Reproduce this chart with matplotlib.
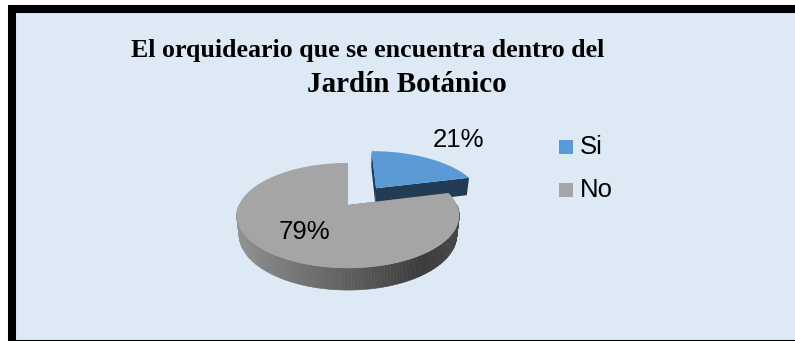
import numpy as np
import matplotlib.pyplot as plt
from matplotlib.patches import Polygon, Rectangle
from matplotlib.colors import LinearSegmentedColormap

# datos de la encuesta
categorias = ['Si', 'No']
valores = [21, 79]
etiquetas = ['21%', '79%']
separacion = [0.45, 0.0]

titulo = ['El orquideario que se encuentra dentro del', 'Jardín Botánico']

col_tapa = ['#5b9bd5', '#a5a5a5']
col_lado = ['#233c55', '#6e6e6e']
fondo = '#dde9f5'

# camara para el pastel 3D (todo en pixeles)
cx, cy = 348, 205
F = 483.0
D = 4.43
elev = np.radians(27.6)
alto = 0.2


def proy(X, Y, Z):
    X, Y, Z = np.asarray(X), np.asarray(Y), np.asarray(Z)
    prof = D + Y * np.cos(elev) - Z * np.sin(elev)
    arriba = Y * np.sin(elev) + Z * np.cos(elev)
    return np.column_stack([cx + F * X / prof, cy - F * arriba / prof])


fig = plt.figure(figsize=(7.95, 3.41), dpi=100)
fig.patch.set_facecolor('white')
ax = fig.add_axes([0, 0, 1, 1])
ax.set_xlim(0, 795)
ax.set_ylim(341, 0)
ax.axis('off')

# marco negro con fondo celeste
ax.add_patch(Rectangle((11.5, 9), 800, 334.5, facecolor=fondo,
                       edgecolor='black', linewidth=5.8, zorder=0))

grad_gris = LinearSegmentedColormap.from_list(
    'gris', [(0, '#959595'), (0.45, '#666666'), (0.8, '#3a3a3a'), (1, '#484848')])

total = float(sum(valores))
inicio = 90.0
rebanadas = []
for i, v in enumerate(valores):
    fin = inicio - 360.0 * v / total
    rebanadas.append((inicio, fin))
    inicio = fin

# rebanada separada primero (queda detras), luego la grande
orden = sorted(range(len(valores)), key=lambda k: -separacion[k])
for i in orden:
    a0, a1 = rebanadas[i]
    medio = np.radians((a0 + a1) / 2)
    ox = separacion[i] * np.cos(medio)
    oy = separacion[i] * np.sin(medio)
    t = np.radians(np.linspace(a0, a1, 200))
    X = ox + np.cos(t)
    Y = oy + np.sin(t)

    # paredes radiales
    for a in (a0, a1):
        ar = np.radians(a)
        px = [ox, ox + np.cos(ar), ox + np.cos(ar), ox]
        py = [oy, oy + np.sin(ar), oy + np.sin(ar), oy]
        pz = [0, 0, -alto, -alto]
        ax.add_patch(Polygon(proy(px, py, pz), closed=True,
                             facecolor=col_lado[i], edgecolor='none', zorder=2 + i * 3))

    # pared curva del frente (seno negativo)
    frente = np.sin(t) < 0.02
    if frente.any():
        idx = np.where(frente)[0]
        for j in range(idx[0], idx[-1]):
            tt = t[j:j + 2]
            xs = ox + np.cos(tt)
            ys = oy + np.sin(tt)
            pts = np.vstack([proy(xs, ys, [0, 0]), proy(xs[::-1], ys[::-1], [-alto, -alto])])
            c = grad_gris((np.cos(t[j]) + 1) / 2)
            ax.add_patch(Polygon(pts, closed=True, facecolor=c, edgecolor=c,
                                 linewidth=0.4, zorder=3 + i * 3))

    # tapa superior
    tapa = np.vstack([proy([ox], [oy], [0]), proy(X, Y, np.zeros_like(X))])
    ax.add_patch(Polygon(tapa, closed=True, facecolor=col_tapa[i],
                         edgecolor='none', zorder=4 + i * 3))

# etiquetas de porcentaje
pos_etiq = [(459, 140), (304, 232)]
for (x, y), txt in zip(pos_etiq, etiquetas):
    ax.text(x, y, txt, ha='center', va='center', fontsize=18.5,
            family='Liberation Sans', color='black', zorder=10)

# leyenda
for k, nombre in enumerate(categorias):
    y = 147 + 43 * k
    ax.add_patch(Rectangle((559, y - 7), 14, 14, facecolor=col_tapa[k],
                           edgecolor='none', zorder=10))
    ax.text(580, y, nombre, ha='left', va='center', fontsize=18.5,
            family='Liberation Sans', color='black', zorder=10)

# titulo en dos renglones
ax.text(368, 57, titulo[0], ha='center', va='baseline', fontsize=18.6,
        family='Liberation Serif', fontweight='bold', zorder=10)
ax.text(407, 92, titulo[1], ha='center', va='baseline', fontsize=21,
        family='Liberation Serif', fontweight='bold', zorder=10)

fig.savefig('out.png', dpi=100, facecolor=fig.get_facecolor())
